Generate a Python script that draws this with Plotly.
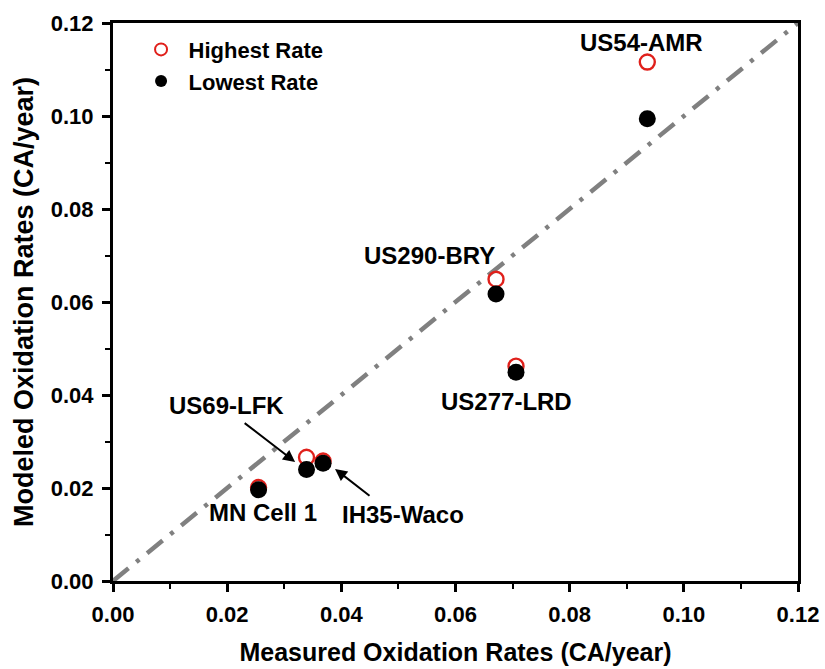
import plotly.graph_objects as go

sites = ["US54-AMR", "US290-BRY", "US277-LRD", "US69-LFK", "IH35-Waco", "MN Cell 1"]
measured = [0.0936, 0.0671, 0.0706, 0.0339, 0.0368, 0.0255]
highest = [0.1116, 0.0649, 0.0462, 0.0266, 0.0258, 0.0201]
lowest = [0.0994, 0.0617, 0.0449, 0.0240, 0.0253, 0.0196]
line_xy = [0.0, 0.12]
tick_vals = [0.00, 0.02, 0.04, 0.06, 0.08, 0.10, 0.12]
tick_labels = ["0.00", "0.02", "0.04", "0.06", "0.08", "0.10", "0.12"]

# label anchor positions (data coordinates)
label_x = [0.0925, 0.0555, 0.0690, 0.0198, 0.0508, 0.0263]
label_y = [0.1159, 0.0701, 0.0387, 0.0378, 0.0142, 0.0148]

font_family = "Liberation Sans, Arial, sans-serif"

fig = go.Figure()
fig.add_trace(go.Scatter(x=line_xy, y=line_xy, mode="lines",
                         line=dict(color="#808080", width=4.5, dash="20px,10px,4px,10px"),
                         showlegend=False, hoverinfo="skip"))
fig.add_trace(go.Scatter(x=measured, y=highest, mode="markers", name="<b>Highest Rate</b>",
                         marker=dict(symbol="circle-open", size=15, color="#e0201b",
                                     line=dict(width=2.4, color="#e0201b"))))
fig.add_trace(go.Scatter(x=measured, y=lowest, mode="markers", name="<b>Lowest Rate</b>",
                         marker=dict(symbol="circle", size=17, color="black")))

lab_font = dict(family=font_family, size=24, color="black")
for t, x, y in zip(sites, label_x, label_y):
    fig.add_annotation(x=x, y=y, text="<b>%s</b>" % t, showarrow=False, font=lab_font,
                       xanchor="center", yanchor="middle")

# arrows: US69-LFK (index 3) and IH35-Waco (index 4)
fig.add_annotation(x=measured[3] - 0.0020, y=lowest[3] + 0.0016,
                   ax=label_x[3] + 0.0030, ay=label_y[3] - 0.0036,
                   axref="x", ayref="y", text="", showarrow=True, arrowhead=2,
                   arrowsize=1.2, arrowwidth=2, arrowcolor="black", standoff=0)
fig.add_annotation(x=measured[4] + 0.0021, y=lowest[4] - 0.0012,
                   ax=label_x[4] - 0.0056, ay=label_y[4] + 0.0039,
                   axref="x", ayref="y", text="", showarrow=True, arrowhead=2,
                   arrowsize=1.2, arrowwidth=2, arrowcolor="black", standoff=0)

axis_common = dict(range=[0, 0.12], tickmode="array", tickvals=tick_vals,
                   ticktext=["<b>%s</b>" % t for t in tick_labels], showgrid=False,
                   zeroline=False, showline=True, linewidth=3, linecolor="black",
                   mirror=True, ticks="outside", ticklen=8, tickwidth=2.5, tickcolor="black",
                   minor=dict(ticks="outside", ticklen=5, tickwidth=2, tickcolor="black",
                              tickmode="linear", tick0=0, dtick=0.01),
                   tickfont=dict(family=font_family, size=22, color="black"),
                   automargin=False)

fig.update_xaxes(**axis_common, ticklabelstandoff=4,
                 title=dict(text="<b>Measured Oxidation Rates (CA/year)</b>",
                            font=dict(family=font_family, size=25, color="black"), standoff=18))
fig.update_yaxes(**axis_common, ticklabelstandoff=4,
                 title=dict(text="<b>Modeled Oxidation Rates (CA/year)</b>",
                            font=dict(family=font_family, size=27, color="black"), standoff=10))

fig.update_layout(
    width=825, height=669,
    margin=dict(l=113, r=27, t=23, b=88),
    plot_bgcolor="white", paper_bgcolor="white",
    legend=dict(x=0.03, y=0.99, xanchor="left", yanchor="top",
                font=dict(family=font_family, size=22, color="black"),
                bgcolor="rgba(0,0,0,0)", tracegroupgap=0, itemsizing="constant",
                itemwidth=45),
    font=dict(family=font_family),
)

fig.write_html("out.html")
